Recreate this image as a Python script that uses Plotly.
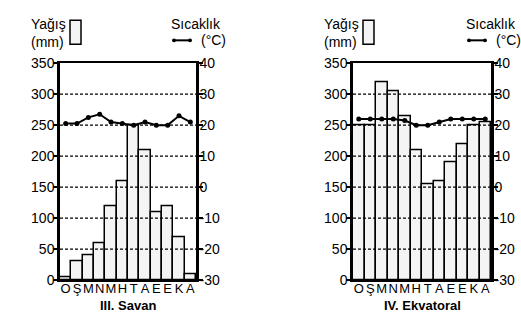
import plotly.graph_objects as go

# month initials (Turkish), shared by both charts
months = ["O", "Ş", "M", "N", "M", "H", "T", "A", "E", "E", "K", "A"]

savan_rain = [5, 30, 40, 60, 120, 160, 250, 210, 110, 120, 70, 10]
savan_temp = [20.5, 20.5, 22.5, 23.5, 21, 20.5, 20, 21, 20, 20, 23, 21]

ekvator_rain = [250, 250, 320, 305, 265, 210, 155, 160, 190, 220, 250, 255]
ekvator_temp = [22, 22, 22, 22, 21.5, 20, 20, 21, 22, 22, 22, 22]

rain_ticks = [0, 50, 100, 150, 200, 250, 300, 350]
temp_ticks = [-30, -20, -10, 0, 10, 20, 30, 40]
grid_lines = [50, 100, 150, 200, 250, 300]

W, H = 521, 328
FONT = "Liberation Sans, Arial, sans-serif"


def px_x(v):
    return v / W


def px_y(v):
    return 1 - v / H


x_idx = list(range(len(months)))
fig = go.Figure()

panels = [
    ("x", "y", "y2", savan_rain, savan_temp),
    ("x2", "y3", "y4", ekvator_rain, ekvator_temp),
]
for xa, ya, ta, rain, temp in panels:
    fig.add_trace(go.Bar(
        x=x_idx, y=rain, xaxis=xa, yaxis=ya, width=1,
        marker=dict(color="#f4f4f4", line=dict(color="black", width=1.5)),
        showlegend=False,
    ))
    fig.add_trace(go.Scatter(
        x=x_idx, y=temp, xaxis=xa, yaxis=ta, mode="lines+markers",
        line=dict(color="black", width=2),
        marker=dict(color="black", size=5),
        showlegend=False,
    ))

y_dom = [px_y(286), px_y(58)]
x_common = dict(
    range=[-0.5, 11.5], tickvals=x_idx, ticktext=months, ticks="",
    tickangle=0, ticklabelstandoff=-4,
    showline=True, mirror=True, linecolor="black", linewidth=1.5,
    showgrid=False, zeroline=False,
    tickfont=dict(family=FONT, size=13, color="black"),
)
rain_axis = dict(
    range=[0, 350], tickvals=rain_ticks, ticktext=[str(v) for v in rain_ticks],
    ticks="outside", ticklen=4, tickwidth=1.5, tickcolor="black",
    ticklabelstandoff=-4,
    showline=True, linecolor="black", linewidth=2.5,
    showgrid=False, zeroline=False, domain=y_dom,
    tickfont=dict(family=FONT, size=14, color="black"),
)
temp_axis = dict(
    range=[-30, 40], tickvals=temp_ticks, ticktext=[str(v) for v in temp_ticks],
    ticks="outside", ticklen=4, tickwidth=1.5, tickcolor="black",
    ticklabelstandoff=-6,
    showline=True, linecolor="black", linewidth=2.5,
    showgrid=False, zeroline=False, side="right",
    tickfont=dict(family=FONT, size=14, color="black"),
)

fig.update_layout(
    width=W, height=H,
    margin=dict(l=0, r=0, t=0, b=0),
    paper_bgcolor="white", plot_bgcolor="white",
    bargap=0,
    font=dict(family=FONT, color="black"),
    xaxis=dict(x_common, domain=[px_x(60), px_x(196)], anchor="y"),
    xaxis2=dict(x_common, domain=[px_x(353), px_x(491)], anchor="y3"),
    yaxis=dict(rain_axis, anchor="x"),
    yaxis2=dict(temp_axis, anchor="x", overlaying="y"),
    yaxis3=dict(rain_axis, anchor="x2"),
    yaxis4=dict(temp_axis, anchor="x2", overlaying="y3"),
)

shapes = []
annotations = []
for xa, ya, x0, x1, title in [("x", "y", 60, 196, "III. Savan"),
                              ("x2", "y3", 353, 491, "IV. Ekvatoral")]:
    # dashed grid drawn over the bars, as in the print
    for g in grid_lines:
        shapes.append(dict(type="line", xref=xa + " domain", yref=ya,
                           x0=0, x1=1, y0=g, y1=g, layer="above",
                           line=dict(color="black", width=1.2, dash="3px,2px")))
    # legend: rainfall box
    shapes.append(dict(type="rect", xref="paper", yref="paper",
                       x0=px_x(x0 + 10), x1=px_x(x0 + 21), y0=px_y(38), y1=px_y(13),
                       line=dict(color="black", width=1.5), fillcolor="#f4f4f4"))
    # legend: temperature line with dots
    lx0, lx1, ly = x1 - 22, x1 - 6, 34
    shapes.append(dict(type="line", xref="paper", yref="paper",
                       x0=px_x(lx0), x1=px_x(lx1), y0=px_y(ly), y1=px_y(ly),
                       line=dict(color="black", width=2)))
    for cx in (lx0, lx1):
        shapes.append(dict(type="circle", xref="paper", yref="paper",
                           x0=px_x(cx - 2), x1=px_x(cx + 2),
                           y0=px_y(ly + 2), y1=px_y(ly - 2),
                           fillcolor="black", line=dict(color="black", width=0)))
    annotations += [
        dict(text="Yağış<br>(mm)", x=px_x(x0 - 31), y=px_y(6), xref="paper", yref="paper",
             xanchor="left", yanchor="top", align="left", showarrow=False,
             font=dict(family=FONT, size=14, color="black")),
        dict(text="Sıcaklık", x=px_x(min(x1 + 27, 520)), y=px_y(6), xref="paper", yref="paper",
             xanchor="right", yanchor="top", showarrow=False,
             font=dict(family=FONT, size=14, color="black")),
        dict(text="(°C)", x=px_x(x1 + 3), y=px_y(ly), xref="paper", yref="paper",
             xanchor="left", yanchor="middle", showarrow=False,
             font=dict(family=FONT, size=14, color="black")),
        dict(text="<b>" + title + "</b>", x=px_x((x0 + x1) / 2), y=px_y(313),
             xref="paper", yref="paper", xanchor="center", yanchor="middle",
             showarrow=False, font=dict(family=FONT, size=13, color="black")),
    ]

fig.update_layout(shapes=shapes, annotations=annotations)

# drop the browser's default 8px body margin so the figure fills the window
fig.write_html("out.html", config={"displayModeBar": False},
               post_script="document.body.style.margin = '0';")
